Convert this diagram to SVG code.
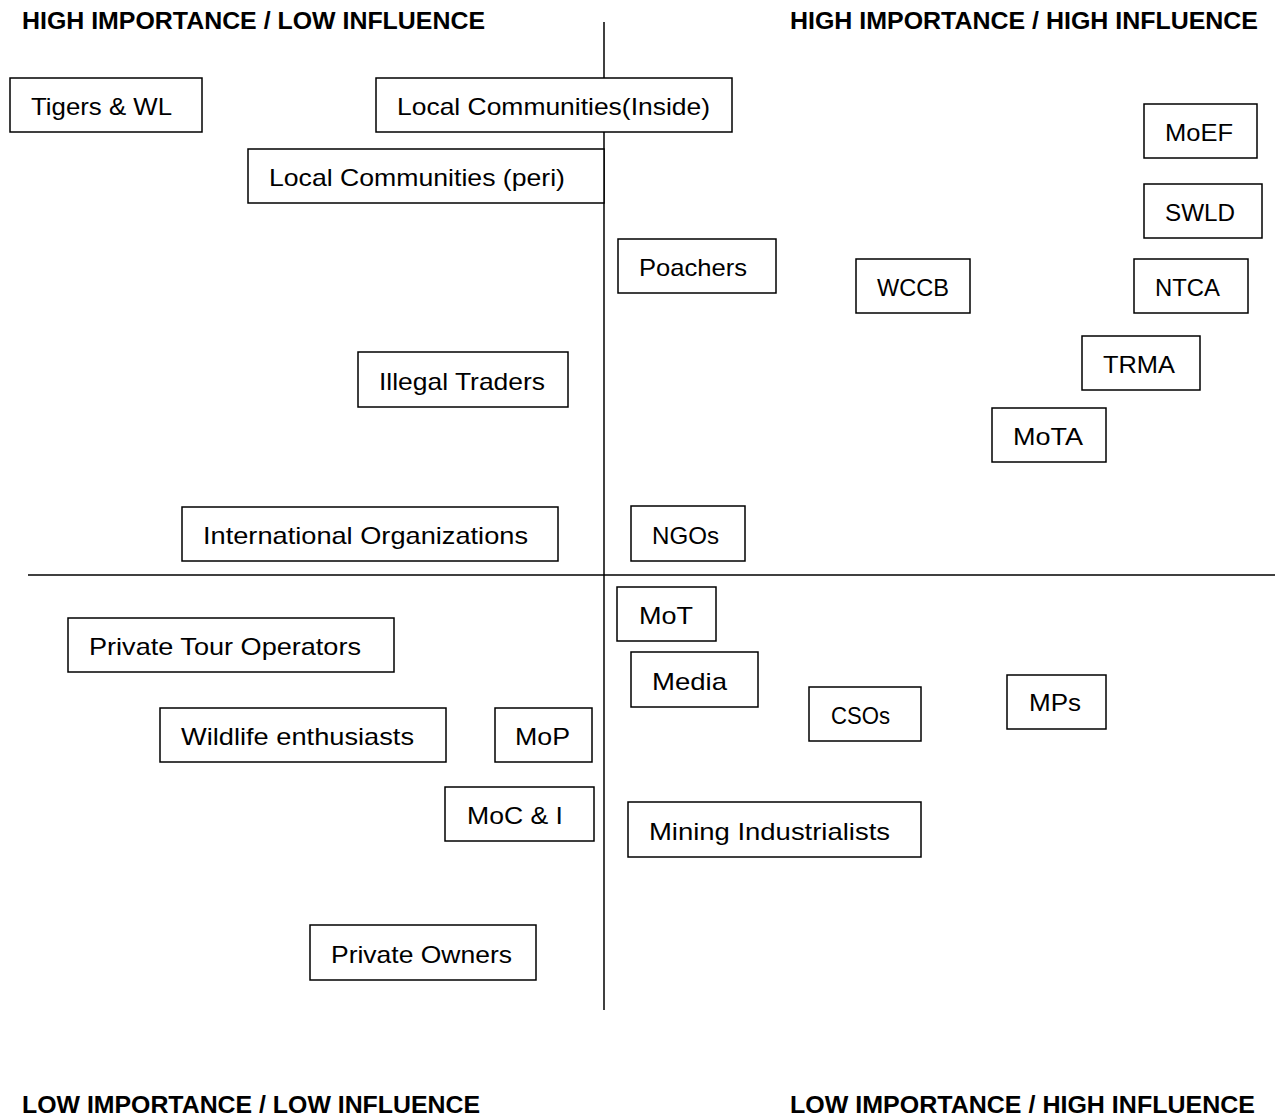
<svg xmlns="http://www.w3.org/2000/svg" width="1275" height="1120" viewBox="0 0 1275 1120">
<style>
.b{fill:#fff;stroke:#000;stroke-width:1.5}
.t{font-family:"Liberation Sans Narrow","Liberation Sans",Arial,sans-serif;font-size:24px;fill:#000}
.h{font-family:"Liberation Sans Narrow","Liberation Sans",Arial,sans-serif;font-size:23px;font-weight:bold;fill:#000}
.ax{stroke:#000;stroke-width:1.5;fill:none}
</style>
<rect width="1275" height="1120" fill="#fff"/>
<g id="axes">
<line class="ax" x1="604" y1="22" x2="604" y2="1010"/>
<line class="ax" x1="28" y1="575" x2="1275" y2="575"/>
</g>
<g id="headers">
<text class="h" x="22" y="29" textLength="463" lengthAdjust="spacingAndGlyphs">HIGH IMPORTANCE / LOW INFLUENCE</text>
<text class="h" x="790" y="29" textLength="468" lengthAdjust="spacingAndGlyphs">HIGH IMPORTANCE / HIGH INFLUENCE</text>
<text class="h" x="22" y="1113" textLength="458" lengthAdjust="spacingAndGlyphs">LOW IMPORTANCE / LOW INFLUENCE</text>
<text class="h" x="790" y="1113" textLength="465" lengthAdjust="spacingAndGlyphs">LOW IMPORTANCE / HIGH INFLUENCE</text>
</g>
<g id="n-tigers"><rect class="b" x="10" y="78" width="192" height="54"/><text class="t" x="31" y="115" textLength="141" lengthAdjust="spacingAndGlyphs">Tigers &amp; WL</text></g>
<g id="n-lc-inside"><rect class="b" x="376" y="78" width="356" height="54"/><text class="t" x="397" y="115" textLength="313" lengthAdjust="spacingAndGlyphs">Local Communities(Inside)</text></g>
<g id="n-lc-peri"><rect class="b" x="248" y="149" width="356" height="54"/><text class="t" x="269" y="186" textLength="296" lengthAdjust="spacingAndGlyphs">Local Communities (peri)</text></g>
<g id="n-moef"><rect class="b" x="1144" y="104" width="113" height="54"/><text class="t" x="1165" y="141" textLength="68" lengthAdjust="spacingAndGlyphs">MoEF</text></g>
<g id="n-swld"><rect class="b" x="1144" y="184" width="118" height="54"/><text class="t" x="1165" y="221" textLength="70" lengthAdjust="spacingAndGlyphs">SWLD</text></g>
<g id="n-ntca"><rect class="b" x="1134" y="259" width="114" height="54"/><text class="t" x="1155" y="296" textLength="65" lengthAdjust="spacingAndGlyphs">NTCA</text></g>
<g id="n-wccb"><rect class="b" x="856" y="259" width="114" height="54"/><text class="t" x="877" y="296" textLength="72" lengthAdjust="spacingAndGlyphs">WCCB</text></g>
<g id="n-poachers"><rect class="b" x="618" y="239" width="158" height="54"/><text class="t" x="639" y="276" textLength="108" lengthAdjust="spacingAndGlyphs">Poachers</text></g>
<g id="n-trma"><rect class="b" x="1082" y="336" width="118" height="54"/><text class="t" x="1103" y="373" textLength="72" lengthAdjust="spacingAndGlyphs">TRMA</text></g>
<g id="n-mota"><rect class="b" x="992" y="408" width="114" height="54"/><text class="t" x="1013" y="445" textLength="70" lengthAdjust="spacingAndGlyphs">MoTA</text></g>
<g id="n-illegal"><rect class="b" x="358" y="352" width="210" height="55"/><text class="t" x="379" y="390" textLength="166" lengthAdjust="spacingAndGlyphs">Illegal Traders</text></g>
<g id="n-intl"><rect class="b" x="182" y="507" width="376" height="54"/><text class="t" x="203" y="544" textLength="325" lengthAdjust="spacingAndGlyphs">International Organizations</text></g>
<g id="n-ngos"><rect class="b" x="631" y="506" width="114" height="55"/><text class="t" x="652" y="544" textLength="67" lengthAdjust="spacingAndGlyphs">NGOs</text></g>
<g id="n-mot"><rect class="b" x="617" y="587" width="99" height="54"/><text class="t" x="639" y="624" textLength="54" lengthAdjust="spacingAndGlyphs">MoT</text></g>
<g id="n-media"><rect class="b" x="631" y="652" width="127" height="55"/><text class="t" x="652" y="690" textLength="75" lengthAdjust="spacingAndGlyphs">Media</text></g>
<g id="n-csos"><rect class="b" x="809" y="687" width="112" height="54"/><text class="t" x="831" y="724" textLength="59" lengthAdjust="spacingAndGlyphs">CSOs</text></g>
<g id="n-mps"><rect class="b" x="1007" y="675" width="99" height="54"/><text class="t" x="1029" y="711" textLength="52" lengthAdjust="spacingAndGlyphs">MPs</text></g>
<g id="n-pto"><rect class="b" x="68" y="618" width="326" height="54"/><text class="t" x="89" y="655" textLength="272" lengthAdjust="spacingAndGlyphs">Private Tour Operators</text></g>
<g id="n-wildlife"><rect class="b" x="160" y="708" width="286" height="54"/><text class="t" x="181" y="745" textLength="233" lengthAdjust="spacingAndGlyphs">Wildlife enthusiasts</text></g>
<g id="n-mop"><rect class="b" x="495" y="708" width="97" height="54"/><text class="t" x="515" y="745" textLength="55" lengthAdjust="spacingAndGlyphs">MoP</text></g>
<g id="n-moci"><rect class="b" x="445" y="787" width="149" height="54"/><text class="t" x="467" y="824" textLength="96" lengthAdjust="spacingAndGlyphs">MoC &amp; I</text></g>
<g id="n-mining"><rect class="b" x="628" y="802" width="293" height="55"/><text class="t" x="649" y="840" textLength="241" lengthAdjust="spacingAndGlyphs">Mining Industrialists</text></g>
<g id="n-owners"><rect class="b" x="310" y="925" width="226" height="55"/><text class="t" x="331" y="963" textLength="181" lengthAdjust="spacingAndGlyphs">Private Owners</text></g>
</svg>
